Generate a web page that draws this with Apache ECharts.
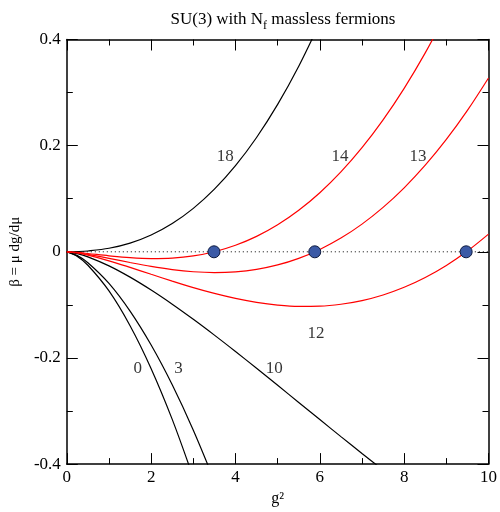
<!DOCTYPE html>
<html>
<head>
<meta charset="utf-8">
<script src="https://cdn.jsdelivr.net/npm/echarts@6/dist/echarts.min.js"></script>
<style>html,body{margin:0;padding:0;background:#fff}#c{width:500px;height:512px}</style>
</head>
<body>
<div id="c"></div>
<script>
// g^2 sample positions
var gx = [0, 0.25, 0.5, 1, 1.5, 2, 2.5, 3, 3.5, 4, 4.5, 5, 5.5, 6, 6.5, 7, 7.5, 8, 8.5, 9, 9.5, 10];
// beta values per curve
var nf0  = [0, -0.00884, -0.02535, -0.07375, -0.13925, -0.22016, -0.31578, -0.42572];
var nf3  = [0, -0.00720, -0.02060, -0.05956, -0.11178, -0.17572, -0.25065, -0.33615, -0.43200];
var nf10 = [0, -0.00340, -0.00953, -0.02645, -0.04769, -0.07202, -0.09870, -0.12717, -0.15701, -0.18788, -0.21946, -0.25151, -0.28378, -0.31608, -0.34819, -0.37998, -0.41125];
var nf12 = [0, -0.00231, -0.00636, -0.01699, -0.02938, -0.04239, -0.05528, -0.06746, -0.07844, -0.08782, -0.09522, -0.10032, -0.10280, -0.10240, -0.09884, -0.09190, -0.08133, -0.06691, -0.04844, -0.02571, 0.00148, 0.03330];
var nf13 = [0, -0.00177, -0.00478, -0.01226, -0.02022, -0.02758, -0.03357, -0.03760, -0.03916, -0.03779, -0.03310, -0.02472, -0.01231, 0.00444, 0.02583, 0.05214, 0.08364, 0.12057, 0.16318, 0.21171, 0.26639, 0.32743];
var nf14 = [0, -0.00122, -0.00320, -0.00753, -0.01107, -0.01276, -0.01187, -0.00775, 0.00013, 0.01224, 0.02902, 0.05088, 0.07818, 0.11128, 0.15050, 0.19617, 0.24860, 0.30804, 0.37479, 0.44913];
var nf18 = [0, 0.00041, 0.00155, 0.00666, 0.01640, 0.03168, 0.05326, 0.08182, 0.11798, 0.16232, 0.21539, 0.27767, 0.34965, 0.43180];
// fixed points (zeros)
var fixedX = [3.49, 5.88, 9.47];
var fixedY = [0, 0, 0];
// zero reference line
var zeroX = [0, 10];
var zeroY = [0, 0];
// curve labels
var labelText = ['18', '14', '13', '12', '10', '0', '3'];
var labelX = [3.76, 6.48, 8.33, 5.91, 4.92, 1.68, 2.65];
var labelY = [0.180, 0.180, 0.180, -0.154, -0.219, -0.219, -0.219];

function pairs(xs, ys) { return ys.map(function (v, i) { return [xs[i], v]; }); }

var FONT = 'Liberation Serif';
var chart = echarts.init(document.getElementById('c'), null, {renderer: 'canvas'});

function curve(vals, color) {
  return {
    type: 'line', data: pairs(gx, vals), showSymbol: false, symbol: 'none',
    smooth: 0.35, clip: true,
    lineStyle: {color: color, width: 1.2}, silent: true, z: 3
  };
}

var axisCommon = {
  axisLine: {show: true, onZero: false, lineStyle: {color: '#000', width: 1.5}},
  axisTick: {show: true, inside: true, length: 11, lineStyle: {color: '#000', width: 1}},
  minorTick: {show: true, splitNumber: 2, length: 6, lineStyle: {color: '#000', width: 1}},
  splitLine: {show: false}, minorSplitLine: {show: false}
};

var option = {
  backgroundColor: '#fff',
  animation: false,
  title: {
    text: 'SU(3) with N{s|f} massless fermions',
    left: 278, top: 3, textAlign: 'center',
    textStyle: {
      fontFamily: FONT, fontSize: 17, fontWeight: 'normal', color: '#000',
      rich: {s: {fontFamily: FONT, fontSize: 12, color: '#000', padding: [12, 0, 0, 0]}}
    }
  },
  grid: {left: 65, right: 9, top: 39.5, bottom: 47.5, containLabel: false},
  xAxis: [
    Object.assign({}, axisCommon, {
      type: 'value', min: 0, max: 10, interval: 2, position: 'bottom',
      name: 'g\u00b2', nameLocation: 'middle', nameGap: 22,
      nameTextStyle: {fontFamily: FONT, fontSize: 16, color: '#000'},
      axisLabel: {show: true, fontFamily: FONT, fontSize: 17, color: '#000', margin: 5}
    }),
    Object.assign({}, axisCommon, {
      type: 'value', min: 0, max: 10, interval: 2, position: 'top',
      axisLabel: {show: false}
    })
  ],
  yAxis: [
    Object.assign({}, axisCommon, {
      type: 'value', min: -0.4, max: 0.4, interval: 0.2, position: 'left',
      name: '\u03b2 = \u03bc dg/d\u03bc', nameLocation: 'middle', nameGap: 42, nameRotate: 90,
      nameTextStyle: {fontFamily: FONT, fontSize: 15, color: '#000'},
      axisLabel: {show: true, fontFamily: FONT, fontSize: 17, color: '#000', margin: 6,
        formatter: function (v) { return Math.abs(v) < 1e-9 ? '0' : String(Math.round(v * 10) / 10); }}
    }),
    Object.assign({}, axisCommon, {
      type: 'value', min: -0.4, max: 0.4, interval: 0.2, position: 'right',
      axisLabel: {show: false}
    })
  ],
  series: [
    {
      type: 'line', data: pairs(zeroX, zeroY), showSymbol: false, symbol: 'none',
      lineStyle: {color: '#000', width: 1, type: [1, 3]}, silent: true, z: 2
    },
    curve(nf0, '#000'),
    curve(nf3, '#000'),
    curve(nf10, '#000'),
    curve(nf18, '#000'),
    curve(nf12, '#ff0000'),
    curve(nf13, '#ff0000'),
    curve(nf14, '#ff0000'),
    {
      type: 'scatter', data: pairs(fixedX, fixedY), symbol: 'circle', symbolSize: 12,
      itemStyle: {color: '#3b5aa6', borderColor: '#0d1a40', borderWidth: 1, opacity: 1},
      silent: true, z: 5
    },
    {
      type: 'scatter', symbolSize: 0, silent: true, z: 6,
      data: labelText.map(function (t, i) { return {name: t, value: [labelX[i], labelY[i]]}; }),
      label: {show: true, position: 'inside', formatter: '{b}', fontFamily: FONT, fontSize: 17,
        color: '#000', textBorderWidth: 0}
    }
  ]
};
chart.setOption(option);
</script>
</body>
</html>
